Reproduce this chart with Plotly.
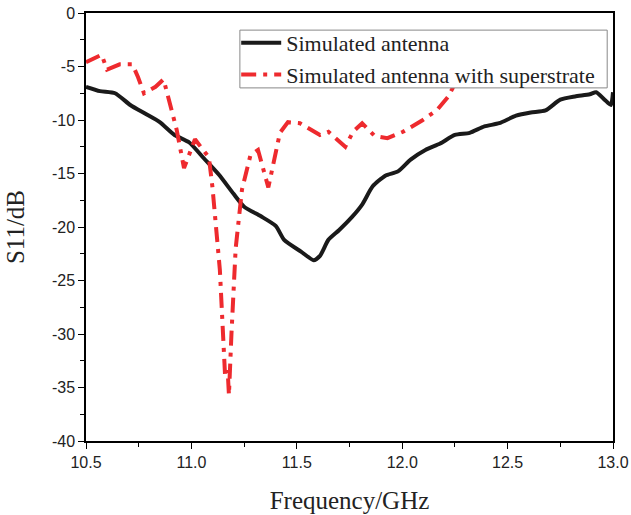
import plotly.graph_objects as go

# Simulated antenna (black solid)
freq_a = [10.50, 10.566, 10.638, 10.71, 10.78, 10.85, 10.92, 10.99, 11.06, 11.13, 11.20, 11.25,
          11.33, 11.40, 11.44, 11.52, 11.58, 11.61, 11.65, 11.70, 11.76, 11.81, 11.86, 11.92,
          11.98, 12.04, 12.11, 12.18, 12.25, 12.32, 12.39, 12.46, 12.54, 12.61, 12.68, 12.75,
          12.82, 12.89, 12.92, 12.96, 12.99, 13.0]
s11_a = [-6.9, -7.3, -7.5, -8.6, -9.4, -10.2, -11.4, -12.1, -13.6, -15.1, -16.9, -18.1,
         -19.0, -19.9, -21.2, -22.3, -23.1, -22.7, -21.2, -20.3, -19.1, -17.9, -16.2, -15.2,
         -14.8, -13.7, -12.8, -12.2, -11.4, -11.2, -10.6, -10.3, -9.6, -9.3, -9.1, -8.1,
         -7.8, -7.6, -7.4, -8.1, -8.6, -7.4]

# Simulated antenna with superstrate (red dash-dot)
freq_b = [10.50, 10.574, 10.60, 10.66, 10.72, 10.747, 10.775, 10.83, 10.868, 10.93, 10.965, 11.017,
          11.083, 11.10, 11.135, 11.16, 11.172, 11.178, 11.19, 11.21, 11.24, 11.28, 11.316,
          11.365, 11.42, 11.458, 11.515, 11.61, 11.65, 11.73, 11.767, 11.81, 11.87, 11.93,
          12.004, 12.098, 12.165, 12.217, 12.24, 12.27, 12.30]
s11_b = [-4.6, -3.9, -5.3, -4.8, -4.8, -6.0, -7.5, -6.9, -6.2, -10.9, -14.5, -11.8,
         -13.5, -16.3, -24.0, -34.0, -33.4, -35.7, -30.0, -22.0, -16.5, -13.3, -12.8,
         -16.3, -11.2, -10.2, -10.3, -11.4, -11.1, -12.5, -11.1, -10.3, -11.5, -11.7,
         -11.1, -10.0, -9.07, -7.85, -7.0, -5.3, -3.5]

x_ticks = [10.5, 11.0, 11.5, 12.0, 12.5, 13.0]
x_labels = ["10.5", "11.0", "11.5", "12.0", "12.5", "13.0"]
y_ticks = [0, -5, -10, -15, -20, -25, -30, -35, -40]
y_labels = ["0", "-5", "-10", "-15", "-20", "-25", "-30", "-35", "-40"]

serif = "Liberation Serif"
sans = "Liberation Sans"

fig = go.Figure()
fig.add_trace(go.Scatter(x=freq_a, y=s11_a, mode="lines", name="Simulated antenna",
                         line=dict(color="#1a1a1a", width=4, shape="spline", smoothing=0.6)))
fig.add_trace(go.Scatter(x=freq_b, y=s11_b, mode="lines", name="Simulated antenna with superstrate",
                         line=dict(color="#ee2a2e", width=4, dash="15px,7px,4px,7px")))

axis_common = dict(showline=True, linecolor="black", linewidth=1.5, mirror=True,
                   ticks="outside", tickcolor="black", ticklen=6, tickwidth=1.2,
                   showgrid=False, zeroline=False, automargin=False,
                   tickfont=dict(family=sans, size=16, color="#222"))

fig.update_xaxes(range=[10.5, 13.0], tickvals=x_ticks, ticktext=x_labels,
                 minor=dict(dtick=0.25, ticks="outside", ticklen=4, tickcolor="black", tickwidth=1.2),
                 title=dict(text="Frequency/GHz", font=dict(family=serif, size=25, color="#222"),
                            standoff=22),
                 **axis_common)
fig.update_yaxes(range=[-40, 0], tickvals=y_ticks, ticktext=y_labels,
                 minor=dict(dtick=2.5, ticks="outside", ticklen=4, tickcolor="black", tickwidth=1.2),
                 title=dict(text="S11/dB", font=dict(family=serif, size=25, color="#222"),
                            standoff=20),
                 **axis_common)

# legend frame drawn as a white box above the data; legend text sits on top of it
fig.add_shape(type="rect", xref="paper", yref="paper", x0=0.292, x1=0.989, y0=0.825, y1=0.960,
              fillcolor="white", line=dict(color="#888", width=1), layer="above")

fig.update_layout(
    width=631, height=515,
    margin=dict(l=86, r=18, t=13, b=74),
    plot_bgcolor="white", paper_bgcolor="white",
    showlegend=True,
    legend=dict(x=0.285, y=0.979, xanchor="left", yanchor="top",
                bgcolor="rgba(0,0,0,0)", borderwidth=0,
                font=dict(family=serif, size=22, color="#222"),
                tracegroupgap=0, itemwidth=40),
)

fig.write_html("out.html")
